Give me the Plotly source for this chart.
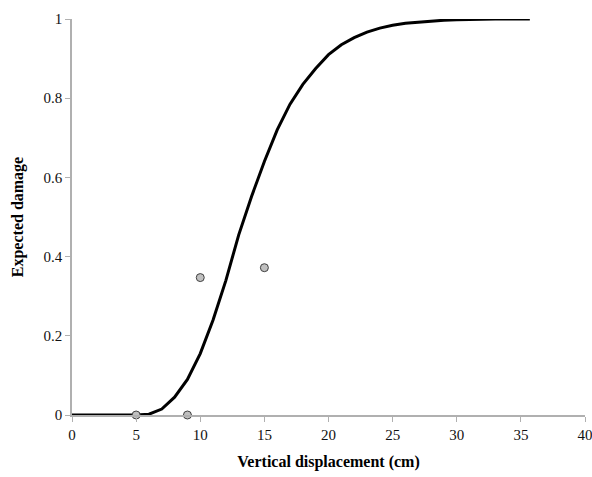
import plotly.graph_objects as go

# Fitted curve (vertical displacement in cm vs expected damage)
curve_x = [0, 1, 2, 3, 4, 5, 6, 7, 8, 9, 10, 11, 12, 13, 14, 15, 16, 17, 18,
           19, 20, 21, 22, 23, 24, 25, 26, 27, 28, 29, 30, 31, 32, 33, 34, 35, 35.7]
curve_y = [0, 0, 0, 0, 0, 0, 0.002, 0.015, 0.045, 0.09, 0.155, 0.24, 0.34, 0.455,
           0.552, 0.64, 0.72, 0.785, 0.835, 0.875, 0.91, 0.935, 0.953, 0.967,
           0.977, 0.984, 0.989, 0.992, 0.995, 0.997, 0.998, 0.999, 1.0, 1.0, 1.0, 1.0, 1.0]

# Observed data points
obs_x = [5, 9, 10, 15]
obs_y = [0, 0, 0.347, 0.372]

x_ticks = [0, 5, 10, 15, 20, 25, 30, 35, 40]
y_ticks = [0, 0.2, 0.4, 0.6, 0.8, 1]
y_tick_text = ["0", "0.2", "0.4", "0.6", "0.8", "1"]

fig = go.Figure()
fig.add_trace(go.Scatter(x=curve_x, y=curve_y, mode="lines",
                         line=dict(color="black", width=3), showlegend=False,
                         cliponaxis=False))
fig.add_trace(go.Scatter(x=obs_x, y=obs_y, mode="markers",
                         marker=dict(color="#c0c0c0", size=8,
                                     line=dict(color="#404040", width=1)),
                         showlegend=False, cliponaxis=False))

font_family = "Liberation Serif, Times New Roman, serif"
fig.update_layout(
    width=592, height=477,
    margin=dict(l=72, r=7, t=19, b=62),
    paper_bgcolor="white", plot_bgcolor="white",
    font=dict(family=font_family, size=14, color="black"),
    xaxis=dict(range=[0, 40], tickvals=x_ticks, showgrid=False, zeroline=False,
               automargin=False, ticklabeloverflow="allow",
               showline=True, linecolor="#b0b0b0", linewidth=1.5,
               ticks="outside", ticklen=5, tickcolor="#b0b0b0",
               tickfont=dict(family=font_family, size=15, color="#111111"),
               title=dict(text="<b>Vertical displacement (cm)</b>",
                          font=dict(family=font_family, size=16), standoff=14)),
    yaxis=dict(range=[0, 1], tickvals=y_ticks, ticktext=y_tick_text,
               showgrid=False, zeroline=False, automargin=False,
               showline=True, linecolor="#b0b0b0", linewidth=1.5,
               ticks="outside", ticklen=5, tickcolor="#b0b0b0",
               tickfont=dict(family=font_family, size=15, color="#111111"),
               title=dict(text="<b>Expected damage</b>",
                          font=dict(family=font_family, size=16), standoff=16)),
)

fig.write_html("out.html")
